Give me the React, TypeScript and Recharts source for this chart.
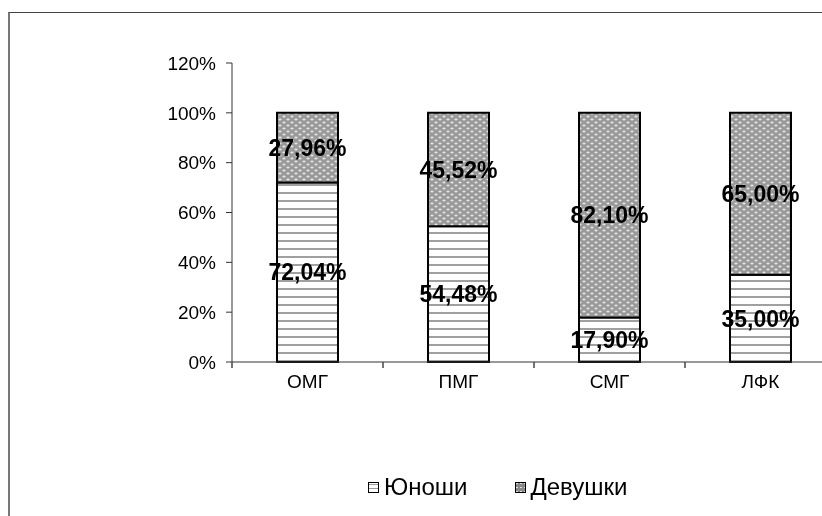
import { BarChart, Bar, XAxis, YAxis, Legend, LabelList } from "recharts";

const categories = ["ОМГ", "ПМГ", "СМГ", "ЛФК"];
const boys = [72.04, 54.48, 17.9, 35.0];
const girls = [27.96, 45.52, 82.1, 65.0];
const yTicks = [0, 20, 40, 60, 80, 100, 120];

const data = categories.map((name, i) => ({ name, boys: boys[i], girls: girls[i] }));

const FONT = "'Liberation Sans', Arial, sans-serif";
const BAND = 151; // ширина категории в пикселях

const pct = (v: unknown) => `${Number(v).toFixed(2).replace(".", ",")}%`;

function Patterns() {
    return (
        <defs>
            <pattern id="stripes" width="8" height="8" patternUnits="userSpaceOnUse">
                <rect width="8" height="8" fill="#fff" />
                <rect y="3" width="8" height="2" fill="#a0a0a0" />
            </pattern>
            <pattern id="dots" width="8" height="6" patternUnits="userSpaceOnUse">
                <rect width="8" height="6" fill="#999" />
                <ellipse cx="2" cy="1.5" rx="1.6" ry="0.9" fill="#e6e6e6" />
                <ellipse cx="6" cy="4.5" rx="1.6" ry="0.9" fill="#e6e6e6" />
            </pattern>
        </defs>
    );
}

function XTick({ x, y, payload }: any) {
    return (
        <g>
            <line x1={x - BAND / 2} x2={x - BAND / 2} y1={y - 8} y2={y - 2} stroke="#444" strokeWidth={1.5} />
            <text x={x} y={y + 18} textAnchor="middle" fontSize={19} fill="#000" fontFamily={FONT}>
                {payload.value}
            </text>
        </g>
    );
}

function LegendBox() {
    const items = [
        { label: "Юноши", fill: "url(#stripes-l)" },
        { label: "Девушки", fill: "url(#dots-l)" },
    ];
    return (
        <div style={{ height: 28, display: "flex", alignItems: "center", marginLeft: 358, fontFamily: FONT, fontSize: 24 }}>
            <svg width="0" height="0" style={{ position: "absolute" }}>
                <defs>
                    <pattern id="stripes-l" width="4" height="4" patternUnits="userSpaceOnUse">
                        <rect width="4" height="4" fill="#fff" />
                        <rect y="2" width="4" height="1" fill="#999" />
                    </pattern>
                    <pattern id="dots-l" width="4" height="4" patternUnits="userSpaceOnUse">
                        <rect width="4" height="4" fill="#888" />
                        <rect x="1" y="1" width="2" height="1" fill="#ddd" />
                    </pattern>
                </defs>
            </svg>
            {items.map((it, i) => (
                <div key={it.label} style={{ display: "flex", alignItems: "center", marginRight: i === 0 ? 47 : 0 }}>
                    <svg width={11} height={11} style={{ marginRight: 5 }}>
                        <rect x={0.5} y={0.5} width={10} height={10} fill={it.fill} stroke="#000" />
                    </svg>
                    <span>{it.label}</span>
                </div>
            ))}
        </div>
    );
}

export default function App() {
    return (
        <div
            style={{
                position: "fixed",
                left: 8,
                top: 12,
                width: 840,
                height: 520,
                borderTop: "1px solid #444",
                borderLeft: "2px solid #777",
            }}
        >
            <style>{"html,body{overflow:hidden}"}</style>
            <BarChart width={840} height={500} data={data} margin={{ top: 50, right: 14, left: 0, bottom: 12 }} barCategoryGap="20%">
                <Patterns />
                <YAxis
                    width={222}
                    domain={[0, 120]}
                    ticks={yTicks}
                    tickFormatter={(v) => `${v}%`}
                    axisLine={{ stroke: "#333" }}
                    tickLine={{ stroke: "#333" }}
                    tickSize={6}
                    tickMargin={10}
                    tick={{ fontSize: 19, fill: "#000", fontFamily: FONT }}
                />
                <XAxis dataKey="name" height={111} axisLine={{ stroke: "#333" }} tickLine={false} tick={<XTick />} />
                <Legend verticalAlign="bottom" content={() => <LegendBox />} />
                <Bar dataKey="boys" stackId="a" fill="url(#stripes)" stroke="#000" strokeWidth={2} barSize={61} isAnimationActive={false}>
                    <LabelList dataKey="boys" position="center" formatter={pct} fill="#000" style={{ fontSize: 23, fontWeight: "bold", fontFamily: FONT }} />
                </Bar>
                <Bar dataKey="girls" stackId="a" fill="url(#dots)" stroke="#000" strokeWidth={2} barSize={61} isAnimationActive={false}>
                    <LabelList dataKey="girls" position="center" formatter={pct} fill="#000" style={{ fontSize: 23, fontWeight: "bold", fontFamily: FONT }} />
                </Bar>
            </BarChart>
        </div>
    );
}
